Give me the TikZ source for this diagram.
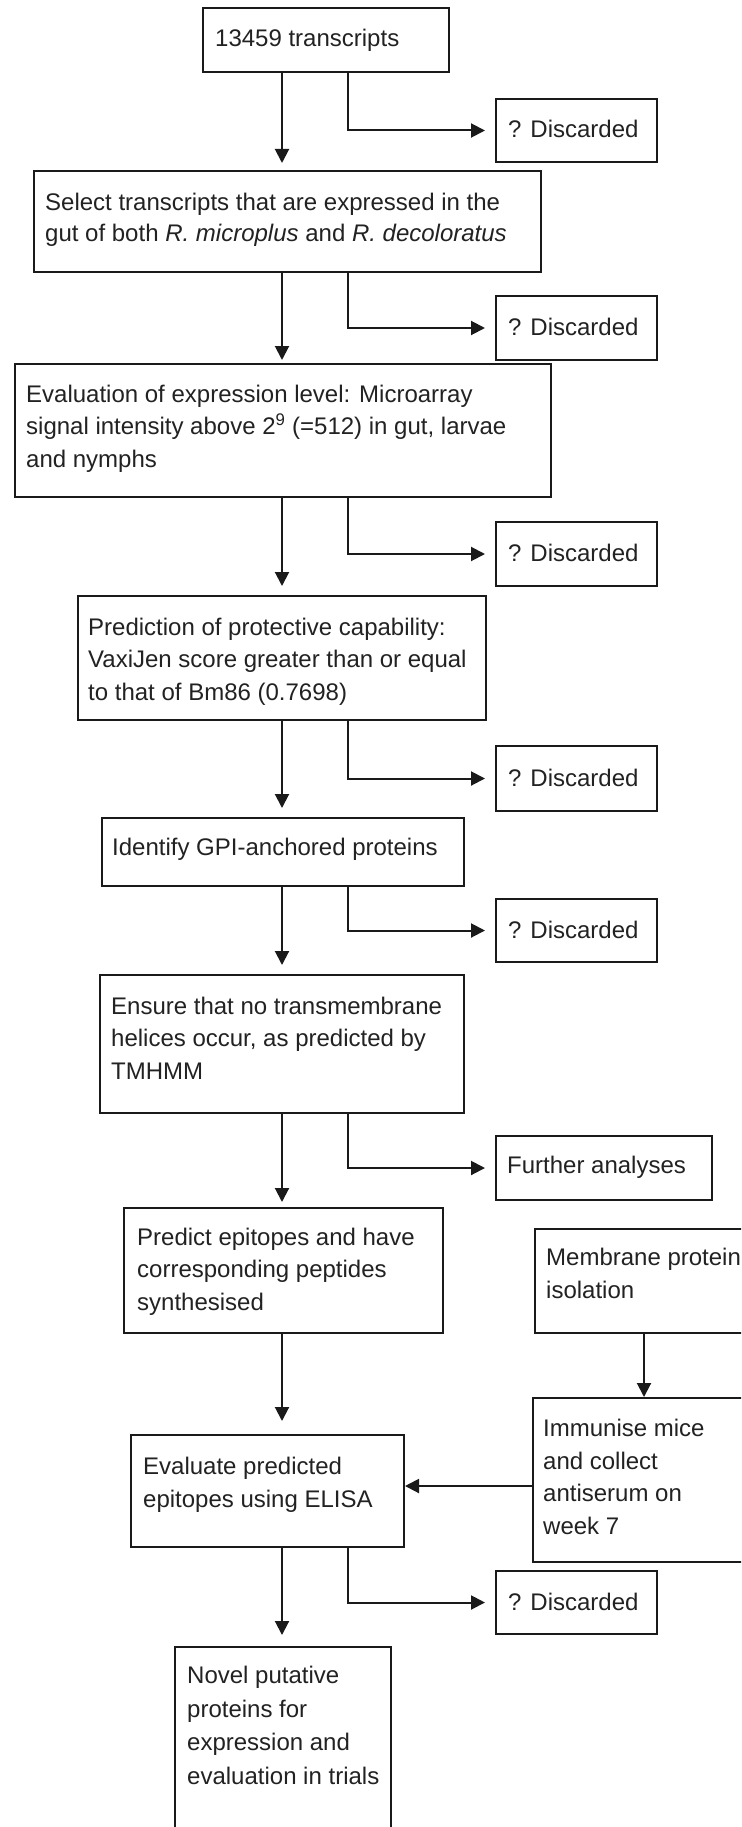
\documentclass[tikz,border=0pt]{standalone}
\usepackage{fontspec}
\setmainfont{Liberation Sans}
\usetikzlibrary{arrows.meta,calc}
\definecolor{linec}{HTML}{1A1A1A}
\definecolor{textc}{HTML}{222222}
\begin{document}
\begin{tikzpicture}[x=1pt,y=-1pt,
  stepbox/.style={draw=linec, line width=2pt, inner sep=0pt, anchor=north west},
  txt/.style={anchor=base west, inner sep=0pt, align=left, text=textc, font=\fontsize{24}{32.5}\selectfont},
  arr/.style={draw=linec, line width=2pt, -{Triangle[length=14pt,width=14pt]}}
]
\useasboundingbox (0,0) rectangle (741,1827);
\clip (0,0) rectangle (741,1827);
\fill[white] (0,0) rectangle (741,1827);
\coordinate (m) at (282,0);
\coordinate (br) at (348,0);
\coordinate (mx) at (644,0);
\coordinate (ay) at (0,1486);
% boxes
\node[stepbox, minimum width=246pt, minimum height=64pt] (b1) at (202,7) {};
\node[stepbox, minimum width=161pt, minimum height=63pt] (d1) at (495,98) {};
\node[stepbox, minimum width=507pt, minimum height=101pt] (b2) at (33,170) {};
\node[stepbox, minimum width=161pt, minimum height=64pt] (d2) at (495,295) {};
\node[stepbox, minimum width=536pt, minimum height=133pt] (b3) at (14,363) {};
\node[stepbox, minimum width=161pt, minimum height=64pt] (d3) at (495,521) {};
\node[stepbox, minimum width=408pt, minimum height=124pt] (b4) at (77,595) {};
\node[stepbox, minimum width=161pt, minimum height=65pt] (d4) at (495,745) {};
\node[stepbox, minimum width=362pt, minimum height=68pt] (b5) at (101,817) {};
\node[stepbox, minimum width=161pt, minimum height=63pt] (d5) at (495,898) {};
\node[stepbox, minimum width=364pt, minimum height=138pt] (b6) at (99,974) {};
\node[stepbox, minimum width=216pt, minimum height=64pt] (fa) at (495,1135) {};
\node[stepbox, minimum width=319pt, minimum height=125pt] (b7) at (123,1207) {};
\node[stepbox, minimum width=240pt, minimum height=104pt] (mem) at (534,1228) {};
\node[stepbox, minimum width=240pt, minimum height=164pt] (im) at (532,1397) {};
\node[stepbox, minimum width=273pt, minimum height=112pt] (b8) at (130,1434) {};
\node[stepbox, minimum width=161pt, minimum height=63pt] (d6) at (495,1570) {};
\node[stepbox, minimum width=216pt, minimum height=250pt] (b9) at (174,1646) {};
% texts (anchored at the baseline of their last line)
\node[txt] (t1) at (215,47) {13459 transcripts};
\node[txt] (td1) at (508,138) {? Discarded};
\node[txt, font=\fontsize{24}{31}\selectfont] (t2) at (45,242) {Select transcripts that are expressed in the\\gut of both \textit{R. microplus} and \textit{R. decoloratus}};
\node[txt] (td2) at (508,335) {? Discarded};
\node[txt] (t3) at (26,467) {Evaluation of expression level: Microarray\\signal intensity above 2\textsuperscript{9} (=512) in gut, larvae\\and nymphs};
\node[txt] (td3) at (508,561) {? Discarded};
\node[txt] (t4) at (88,700) {Prediction of protective capability:\\VaxiJen score greater than or equal\\to that of Bm86 (0.7698)};
\node[txt] (td4) at (508,786) {? Discarded};
\node[txt] (t5) at (112,855) {Identify GPI-anchored proteins};
\node[txt] (td5) at (508,938) {? Discarded};
\node[txt] (t6) at (111,1079) {Ensure that no transmembrane\\helices occur, as predicted by\\TMHMM};
\node[txt] (tfa) at (507,1173) {Further analyses};
\node[txt] (t7) at (137,1310) {Predict epitopes and have\\corresponding peptides\\synthesised};
\node[txt] (tmem) at (546,1298) {Membrane protein\\isolation};
\node[txt] (tim) at (543,1534) {Immunise mice\\and collect\\antiserum on\\week 7};
\node[txt] (t8) at (143,1507) {Evaluate predicted\\epitopes using ELISA};
\node[txt] (td6) at (508,1610) {? Discarded};
\node[txt, font=\fontsize{24}{33.5}\selectfont] (t9) at (187,1784) {Novel putative\\proteins for\\expression and\\evaluation in trials};
% main arrows
\draw[arr, shorten >=7pt] (b1.south -| m) -- (b2.north -| m);
\draw[arr, shorten >=3pt] (b2.south -| m) -- (b3.north -| m);
\draw[arr, shorten >=9pt] (b3.south -| m) -- (b4.north -| m);
\draw[arr, shorten >=9pt] (b4.south -| m) -- (b5.north -| m);
\draw[arr, shorten >=9pt] (b5.south -| m) -- (b6.north -| m);
\draw[arr, shorten >=5pt] (b6.south -| m) -- (b7.north -| m);
\draw[arr, shorten >=13pt] (b7.south -| m) -- (b8.north -| m);
\draw[arr, shorten >=11pt] (b8.south -| m) -- (b9.north -| m);
% branches
\draw[arr, shorten >=10pt] (b1.south -| br) |- (d1.west);
\draw[arr, shorten >=10pt] (b2.south -| br) |- (d2.west);
\draw[arr, shorten >=10pt] (b3.south -| br) |- (d3.west);
\draw[arr, shorten >=10pt] (b4.south -| br) |- (d4.west);
\draw[arr, shorten >=10pt] (b5.south -| br) |- (d5.west);
\draw[arr, shorten >=10pt] (b6.south -| br) |- (fa.west);
\draw[arr, shorten >=10pt] (b8.south -| br) |- (d6.west);
% side chain
\draw[arr] (mem.south -| mx) -- (im.north -| mx);
\draw[arr] (im.west |- ay) -- (b8.east |- ay);
\end{tikzpicture}
\end{document}
